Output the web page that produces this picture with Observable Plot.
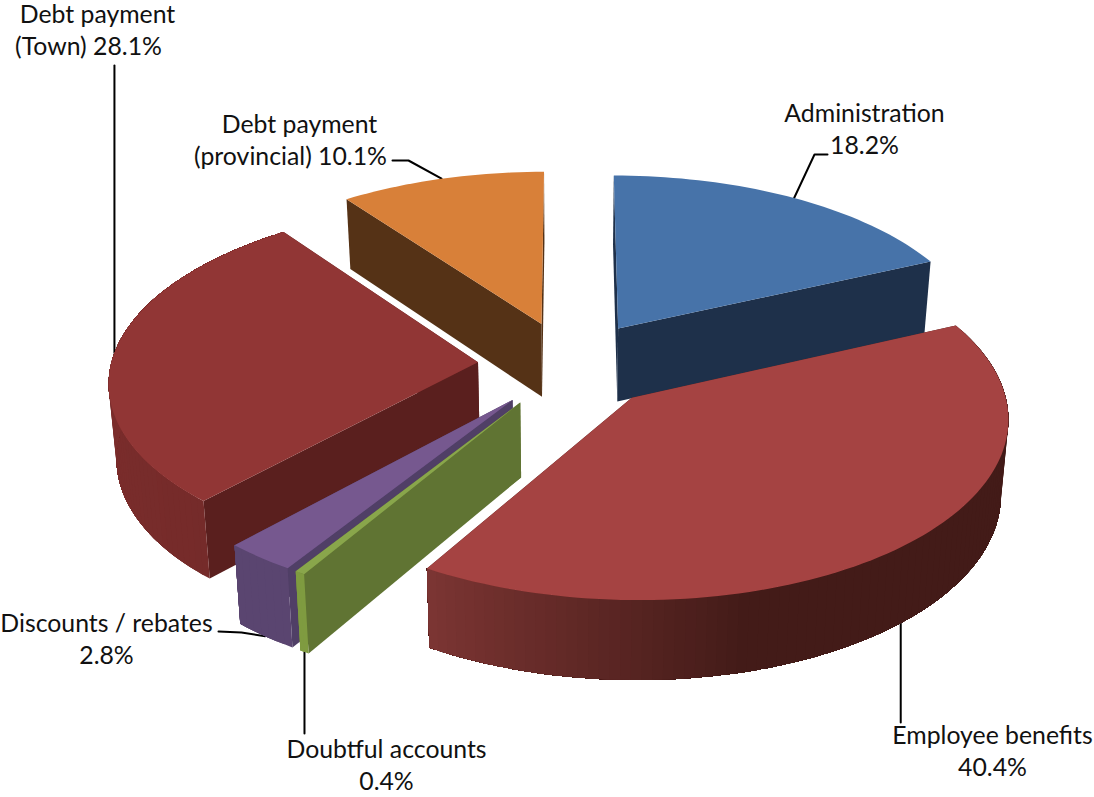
<!DOCTYPE html>
<html>
<head>
<meta charset="utf-8">
<style>
  html, body { margin: 0; padding: 0; background: #fff; }
  svg { display: block; }
</style>
<script src="https://cdn.jsdelivr.net/npm/d3@7"></script>
<script src="https://cdn.jsdelivr.net/npm/@observablehq/plot@0.6"></script>
</head>
<body>
<div id="chart"></div>
<script>
// Budget shares, clockwise from twelve o'clock.
const categories = ["Administration", "Employee benefits", "Doubtful accounts", "Discounts / rebates", "Debt payment (Town)", "Debt payment (provincial)"];
const shares = [18.2, 40.4, 0.4, 2.8, 28.1, 10.1];
const labelLines = [["Administration", ""], ["Employee benefits", ""], ["Doubtful accounts", ""], ["Discounts / rebates", ""], ["Debt payment", "(Town) "], ["Debt payment", "(provincial) "]];

// Face colours per slice; outer wall colours are stops over the sweep angle.
const topColors = ["#4773a9", "#a54342", "#89a64b", "#76588f", "#913635", "#d88039"];
const sideColors = ["#1e304a", "#431b18", "#607433", "#503f66", "#5a1f1e", "#553216"];
const rimStops = [
  null,
  [[165, 211], ["#431b18", "#7c3533"]],
  [[211, 213], ["#7f9b40", "#7f9b40"]],
  [[212, 223], ["#5a4570", "#5a4570"]],
  [[222, 300], ["#752b2a", "#802e2d"]],
  null
];
// Stacking order of the slices, back to front.
const paintOrder = [0, 5, 4, 3, 2, 1];

// Perspective view of the tilted disc.
const W = 1094, H = 797;
const view = {cx: 569, cy: 364, fx: 367, fy: 175, persp: 0.1, pull: 0.25, depth: 74, shrink: 0.983};

function project(u, v, lower) {
  const s = 1 / (1 + view.persp * v);
  let x = view.cx + view.fx * u * s;
  let y = view.cy - view.fy * v * s;
  if (lower) {
    x = view.cx + (x - view.cx) * view.shrink;
    y = view.cy + (y - view.cy) * view.shrink + view.depth * s;
  }
  return [x, y];
}

// Angular extent of each slice, derived from the shares.
const total = d3.sum(shares);
let running = 0;
const slices = shares.map((share, i) => {
  const a0 = running / total * 360;
  running += share;
  const a1 = running / total * 360;
  const mid = (a0 + a1) / 2 * Math.PI / 180;
  return {i, a0, a1, mid, ex: view.pull * Math.sin(mid), ey: view.pull * Math.cos(mid)};
});

function rimPoint(sl, deg, lower) {
  const t = deg * Math.PI / 180;
  return project(Math.sin(t) + sl.ex, Math.cos(t) + sl.ey, lower);
}
const apexPoint = (sl, lower) => project(sl.ex, sl.ey, lower);

const faces = [];
let faceId = 0;
function addFace(points, color) {
  const id = faceId++;
  points.forEach(([x, y]) => faces.push({x, y, id, color}));
}
for (const k of paintOrder) {
  const sl = slices[k];
  const steps = Math.max(2, Math.ceil((sl.a1 - sl.a0) / 1.5));
  const angles = d3.range(steps + 1).map(j => sl.a0 + (sl.a1 - sl.a0) * j / steps);
  // radial walls
  for (const a of [sl.a1, sl.a0]) {
    addFace([apexPoint(sl, false), rimPoint(sl, a, false), rimPoint(sl, a, true), apexPoint(sl, true)], sideColors[k]);
  }
  // curved outer wall, for slices that face the viewer: each strip runs on to the end of
  // the sweep and is painted over by the next one, so no seams show between shades
  if (rimStops[k]) {
    const shade = d3.scaleLinear().domain(rimStops[k][0]).range(rimStops[k][1]).clamp(true);
    for (let j = 0; j < steps; j++) {
      const rest = angles.slice(j);
      addFace([
        ...rest.map(a => rimPoint(sl, a, false)),
        ...rest.slice().reverse().map(a => rimPoint(sl, a, true))
      ], shade((angles[j] + angles[j + 1]) / 2));
    }
  }
  // top face
  addFace([apexPoint(sl, false), ...angles.map(a => rimPoint(sl, a, false))], topColors[k]);
}

// Label placement and leader elbows; each leader starts on its slice's rim at mid-angle.
// A null x keeps the leader vertical above or below its start.
const labelAt = [[864, 130], [992, 752], [386, 766], [106, 640], [97, 31], [299, 141]];
const secondLineShift = [0, 0, 0, 0, -9, -9];
const leaderElbows = [
  [[814, 154], [827, 154]],
  [[null, 722]],
  [[null, 733]],
  [[241, 632], [218, 631]],
  [[null, 65]],
  [[408, 160], [392, 160]]
];
const leaderFromBase = [false, true, true, true, false, false];

const labels = slices.flatMap(sl => {
  const [first, second] = labelLines[sl.i];
  const pct = shares[sl.i].toFixed(1) + "%";
  const [x, y] = labelAt[sl.i];
  return [
    {x, y: y - 16, text: first},
    {x: x + secondLineShift[sl.i], y: y + 16, text: second + pct}
  ];
});
const leaders = slices.flatMap(sl => {
  const deg = sl.mid * 180 / Math.PI;
  const start = rimPoint(sl, deg, leaderFromBase[sl.i]);
  return [start, ...leaderElbows[sl.i].map(([x, y]) => [x ?? start[0], y])]
    .map(([x, y]) => ({x, y, slice: categories[sl.i]}));
});

const plot = Plot.plot({
  width: W,
  height: H,
  margin: 0,
  x: {domain: [0, W], range: [0, W], axis: null},
  y: {domain: [0, H], range: [0, H], axis: null},
  color: {type: "identity"},
  marks: [
    Plot.line(leaders, {x: "x", y: "y", z: "slice", stroke: "#000", strokeWidth: 2, curve: "linear"}),
    Plot.line(faces, {x: "x", y: "y", z: "id", fill: "color", stroke: "none", curve: "linear-closed"}),
    Plot.text(labels, {x: "x", y: "y", text: "text", fontFamily: "Lato", fontSize: 24.8, fill: "#111", textAnchor: "middle"})
  ]
});
document.getElementById("chart").appendChild(plot);
</script>
</body>
</html>
